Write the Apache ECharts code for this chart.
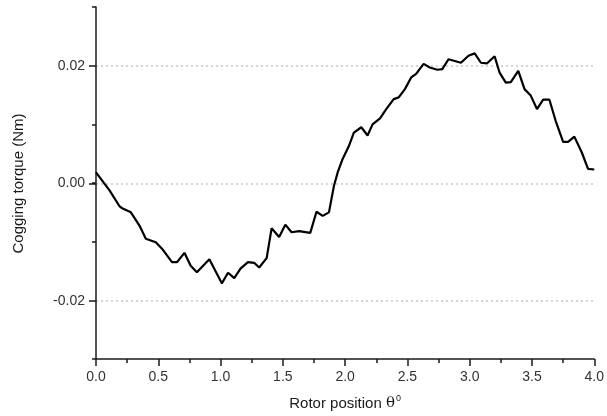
<!DOCTYPE html>
<html>
<head>
<meta charset="utf-8">
<script src="https://cdn.jsdelivr.net/npm/echarts@6/dist/echarts.min.js"></script>
<style>
  html, body { margin: 0; padding: 0; background: #fff; }
  #main { width: 607px; height: 416px; }
</style>
</head>
<body>
<div id="main"></div>
<script>
// rotor position (deg) and cogging torque (Nm)
var positions = [0.00, 0.11, 0.19, 0.21, 0.28, 0.35, 0.40, 0.48, 0.53, 0.61, 0.65, 0.71, 0.76, 0.81,
    0.91, 1.01, 1.06, 1.11, 1.16, 1.22, 1.27, 1.31, 1.37, 1.41, 1.47, 1.52, 1.57, 1.63, 1.72,
    1.77, 1.82, 1.87, 1.91, 1.94, 1.98, 2.03, 2.07, 2.13, 2.18, 2.22, 2.28, 2.33, 2.39, 2.43,
    2.48, 2.53, 2.57, 2.63, 2.68, 2.74, 2.78, 2.83, 2.88, 2.93, 2.99, 3.04, 3.09, 3.14, 3.20,
    3.24, 3.29, 3.33, 3.39, 3.44, 3.49, 3.54, 3.59, 3.64, 3.69, 3.75, 3.79, 3.84, 3.90, 3.95, 4.00];
var torque = [0.0018, -0.0013, -0.0040, -0.0043, -0.0050, -0.0073, -0.0095, -0.0101, -0.0112, -0.0135,
    -0.0135, -0.0119, -0.0141, -0.0152, -0.0130, -0.0171, -0.0153, -0.0162, -0.0146, -0.0135, -0.0136,
    -0.0144, -0.0128, -0.0077, -0.0092, -0.0071, -0.0084, -0.0082, -0.0085, -0.0049, -0.0056, -0.0050,
    -0.0005, 0.0018, 0.0041, 0.0063, 0.0086, 0.0095, 0.0081, 0.0100, 0.0110, 0.0126, 0.0143, 0.0146,
    0.0160, 0.0180, 0.0186, 0.0203, 0.0197, 0.0193, 0.0194, 0.0211, 0.0208, 0.0205, 0.0217, 0.0221,
    0.0205, 0.0204, 0.0216, 0.0188, 0.0171, 0.0172, 0.0191, 0.0160, 0.0149, 0.0126, 0.0142, 0.0142,
    0.0106, 0.0070, 0.0070, 0.0079, 0.0052, 0.0024, 0.0023];
var xTicks = [0, 4, 0.5];          // min, max, interval
var yRange = [-0.03, 0.03, 0.01];  // full axis, minor ticks
var yMajor = [-0.02, 0.02, 0.02];  // labelled ticks + grid lines

var points = positions.map(function (p, i) { return [p, torque[i]]; });

var gLeft = 96, gTop = 7, gW = 500, gH = 353;
var perUnit = gH / (yRange[1] - yRange[0]);
var innerTop = gTop + (yRange[1] - yMajor[1]) * perUnit;
var innerH = (yMajor[1] - yMajor[0]) * perUnit;

var font = 'Liberation Sans, Arial, sans-serif';
var ink = '#1a1a1a';

var chart = echarts.init(document.getElementById('main'), null, { renderer: 'canvas' });
chart.setOption({
    animation: false,
    backgroundColor: '#fff',
    grid: [
        { left: gLeft, top: gTop, width: gW, height: gH },
        { left: gLeft, top: innerTop, width: gW, height: innerH }
    ],
    xAxis: [{
        gridIndex: 0,
        type: 'value',
        min: xTicks[0], max: xTicks[1], interval: xTicks[2],
        name: 'Rotor position {a|θ}{s|0}',
        nameLocation: 'middle',
        nameGap: 35,
        nameTextStyle: {
            fontFamily: font, fontSize: 15, color: ink,
            rich: {
                a: { fontFamily: 'DejaVu Serif, serif', fontSize: 15, color: ink },
                s: { fontFamily: font, fontSize: 9, color: ink, verticalAlign: 'top', padding: [0, 0, 10, 1] }
            }
        },
        axisLine: { onZero: false, lineStyle: { color: ink, width: 1.5 } },
        axisTick: { length: 7, lineStyle: { color: ink, width: 1.5 } },
        minorTick: { show: true, splitNumber: 2, length: 4, lineStyle: { color: ink, width: 1.5 } },
        axisLabel: {
            margin: 11, fontFamily: font, fontSize: 14, color: '#333',
            formatter: function (v) { return v.toFixed(1); }
        },
        splitLine: { show: false }
    }, {
        gridIndex: 1,
        type: 'value',
        min: xTicks[0], max: xTicks[1],
        show: false
    }],
    yAxis: [{
        gridIndex: 0,
        type: 'value',
        min: yRange[0], max: yRange[1], interval: yRange[2],
        axisLine: { show: true, onZero: false, lineStyle: { color: ink, width: 1.5 } },
        axisTick: { show: true, length: 4, lineStyle: { color: ink, width: 1.5 } },
        axisLabel: { show: false },
        splitLine: { show: false }
    }, {
        gridIndex: 1,
        type: 'value',
        min: yMajor[0], max: yMajor[1], interval: yMajor[2],
        name: 'Cogging torque (Nm)',
        nameLocation: 'middle',
        nameGap: 70,
        nameTextStyle: { fontFamily: font, fontSize: 15, color: ink },
        axisLine: { show: false, onZero: false },
        axisTick: { show: true, length: 7, lineStyle: { color: ink, width: 1.5 } },
        axisLabel: {
            margin: 11, fontFamily: font, fontSize: 14, color: '#333',
            formatter: function (v) { return v.toFixed(2); }
        },
        splitLine: { show: true, lineStyle: { color: '#c8c8c8', type: [2, 3], width: 1.5 } }
    }],
    series: [{
        type: 'line',
        xAxisIndex: 0,
        yAxisIndex: 0,
        data: points,
        showSymbol: false,
        z: 5,
        lineStyle: { color: '#000', width: 2.2 }
    }]
});
</script>
</body>
</html>
